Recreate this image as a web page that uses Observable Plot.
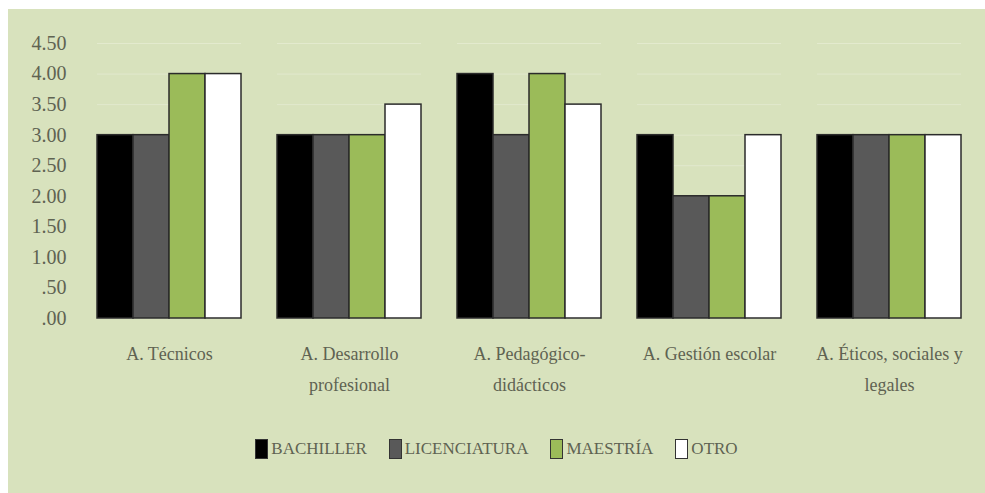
<!DOCTYPE html>
<html>
<head>
<meta charset="utf-8">
<script src="https://cdn.jsdelivr.net/npm/d3@7"></script>
<script src="https://cdn.jsdelivr.net/npm/@observablehq/plot@0.6"></script>
<style>
  html, body { margin: 0; padding: 0; background: #ffffff; }
  #panel { position: absolute; left: 8px; top: 9px; width: 977px; height: 484px; background: #d8e2bd; }
  #legend { display: flex; justify-content: center; align-items: center; gap: 22px; margin-top: 30px;
    font-family: "Liberation Serif", "Noto Serif", "DejaVu Serif Condensed", "DejaVu Serif", serif; font-size: 17px; color: #5f6352; }
  .item { display: flex; align-items: center; gap: 3px; }
  .sw { width: 13px; height: 20px; border: 1.5px solid #333; box-sizing: border-box; }
</style>
</head>
<body>
<div id="panel"></div>
<script>
const categories = ["A. Técnicos", "A. Desarrollo profesional", "A. Pedagógico-didácticos", "A. Gestión escolar", "A. Éticos, sociales y legales"];
const categoryLabels = ["A. Técnicos", "A. Desarrollo\nprofesional", "A. Pedagógico-\ndidácticos", "A. Gestión escolar", "A. Éticos, sociales y\nlegales"];
const series = ["BACHILLER", "LICENCIATURA", "MAESTRÍA", "OTRO"];
const colors = ["#000000", "#595959", "#9bbb59", "#ffffff"];
const bachiller = [3, 3, 4, 3, 3];
const licenciatura = [3, 3, 3, 2, 3];
const maestria = [4, 3, 4, 2, 3];
const otro = [4, 3.5, 3.5, 3, 3];
const yTicks = [0, 0.5, 1, 1.5, 2, 2.5, 3, 3.5, 4, 4.5];
const yTickLabels = [".00", ".50", "1.00", "1.50", "2.00", "2.50", "3.00", "3.50", "4.00", "4.50"];

const valuesBySeries = [bachiller, licenciatura, maestria, otro];
const data = [];
categories.forEach((c, i) => series.forEach((s, j) => data.push({cat: c, series: s, value: valuesBySeries[j][i]})));
const labelOf = new Map(categories.map((c, i) => [c, categoryLabels[i]]));
const tickLabelOf = new Map(yTicks.map((t, i) => [t, yTickLabels[i]]));

const textColor = "#5f6352";
const serif = "'Liberation Serif', 'Noto Serif', 'DejaVu Serif Condensed', 'DejaVu Serif', serif";
const chart = Plot.plot({
  width: 977,
  height: 400,
  marginLeft: 69,
  marginRight: 5,
  marginTop: 34,
  marginBottom: 91,
  style: {background: "transparent", fontFamily: serif, color: textColor},
  fx: {domain: categories, paddingInner: 0.2, paddingOuter: 0.1, label: null},
  x: {domain: series, padding: 0, axis: null},
  y: {domain: [0, 4.5], label: null},
  color: {domain: series, range: colors},
  marks: [
    Plot.gridY(yTicks, {stroke: "#eef2e0", strokeOpacity: 0.5, strokeWidth: 1}),
    Plot.axisY(yTicks, {tickSize: 0, tickPadding: 31, fontSize: 20, fontFamily: serif, tickFormat: d => tickLabelOf.get(d), label: null, fill: textColor}),
    Plot.axisFx({anchor: "bottom", tickSize: 0, tickPadding: 19, fontSize: 18, fontFamily: serif, lineHeight: 1.75, tickFormat: d => labelOf.get(d), label: null, fill: textColor}),
    Plot.barY(data, {fx: "cat", x: "series", y: "value", fill: "series", stroke: "#2b2b2b", strokeWidth: 1.5})
  ]
});
const panel = document.getElementById("panel");
panel.appendChild(chart);
const legend = document.createElement("div");
legend.id = "legend";
series.forEach((s, i) => {
  const it = document.createElement("div");
  it.className = "item";
  const sw = document.createElement("div");
  sw.className = "sw";
  sw.style.background = colors[i];
  const t = document.createElement("span");
  t.textContent = s;
  it.appendChild(sw); it.appendChild(t);
  legend.appendChild(it);
});
panel.appendChild(legend);
</script>
</body>
</html>
